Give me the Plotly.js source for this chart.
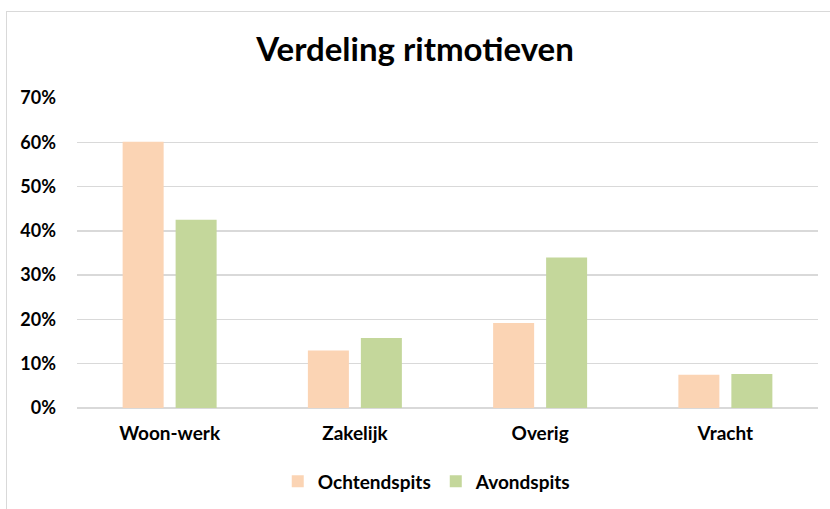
<!DOCTYPE html>
<html>
<head>
<meta charset="utf-8">
<script src="https://cdn.plot.ly/plotly-3.0.1.min.js"></script>
<style>
  html, body { margin: 0; padding: 0; background: #fff; overflow: hidden; }
  #wrap { position: relative; width: 830px; height: 509px; }
  #frame { position: absolute; left: 6px; top: 11px; width: 840px; height: 520px; border: 1px solid #d9d9d9; box-sizing: border-box; pointer-events: none; }
  #chart { position: absolute; left: 0; top: 0; width: 830px; height: 509px; }
</style>
</head>
<body>
<div id="wrap">
  <div id="frame"></div>
  <div id="chart"></div>
</div>
<script>
const categories = ["Woon-werk", "Zakelijk", "Overig", "Vracht"];
const ochtendspits = [0.601, 0.130, 0.192, 0.075];
const avondspits = [0.425, 0.158, 0.340, 0.077];
const seriesNames = ["Ochtendspits", "Avondspits"];
const yTicks = [0, 0.1, 0.2, 0.3, 0.4, 0.5, 0.6, 0.7];

const font = "Lato, 'Open Sans', sans-serif";

const data = [
  { type: "bar", x: categories, y: ochtendspits, name: seriesNames[0],
    marker: { color: "#FBD4B4" }, hoverinfo: "skip" },
  { type: "bar", x: categories, y: avondspits, name: seriesNames[1],
    marker: { color: "#C4D79B" }, hoverinfo: "skip" }
];

const layout = {
  width: 830, height: 509,
  paper_bgcolor: "rgba(0,0,0,0)", plot_bgcolor: "rgba(0,0,0,0)",
  margin: { l: 77, r: 12, t: 98, b: 101, autoexpand: false },
  barmode: "group", bargap: 0.428, bargroupgap: 0.226,
  title: { text: "<b>Verdeling ritmotieven</b>", x: 0.5, xanchor: "center",
    y: 0.902, yanchor: "middle", font: { family: font, size: 33, color: "#000" } },
  font: { family: font, color: "#000" },
  xaxis: {
    type: "category", showgrid: false, zeroline: false,
    showline: false, ticks: "", ticklabelstandoff: 12,
    tickfont: { family: font, size: 19, color: "#000", weight: "bold" }
  },
  yaxis: {
    range: [0, 0.7], tickvals: yTicks, tickformat: ".0%",
    showgrid: true, gridcolor: "#d9d9d9", gridwidth: 1.3,
    zeroline: true, zerolinecolor: "#d9d9d9", zerolinewidth: 1.3,
    showline: false, ticks: "", ticklabelstandoff: 20,
    tickfont: { family: font, size: 18, color: "#000", weight: "bold" }
  },
  showlegend: true,
  legend: { orientation: "h", x: 0.472, xanchor: "center", y: -0.237, yanchor: "middle",
    font: { family: font, size: 19, color: "#000", weight: "bold" },
    itemwidth: 30, tracegroupgap: 0, traceorder: "normal" }
};

Plotly.newPlot("chart", data, layout, { staticPlot: true, displayModeBar: false });
</script>
</body>
</html>
